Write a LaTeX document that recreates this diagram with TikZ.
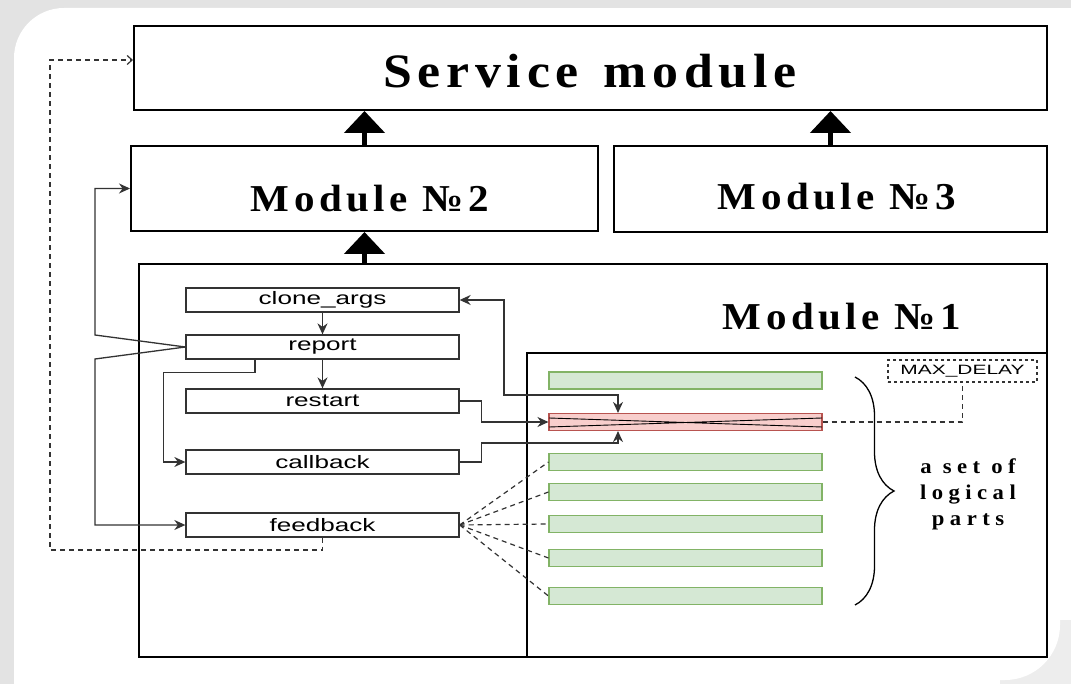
\documentclass[tikz,border=0pt]{standalone}
\usepackage{fontspec}
\setmainfont{Liberation Serif}
\setsansfont{Liberation Sans}
\newfontfamily\spacedserif[LetterSpace=11]{Liberation Serif}
\newfontfamily\widespaced[LetterSpace=24]{Liberation Serif}
\usetikzlibrary{arrows.meta, decorations.pathreplacing}
\definecolor{partfill}{HTML}{D5E8D4}
\definecolor{partline}{HTML}{82B366}
\definecolor{hotfill}{HTML}{F8CECC}
\definecolor{hotline}{HTML}{B85450}
\definecolor{wire}{HTML}{333333}
\newcommand{\stretched}[1]{\scalebox{1.45}[1]{#1}}
\newcommand{\widened}[1]{\scalebox{1.08}[1]{#1}}

\begin{document}
\begin{tikzpicture}[
    x=1pt, y=-1pt,
    module/.style={draw, line width=2pt, inner sep=0pt},
    title/.style={anchor=base, inner sep=0pt, font=\spacedserif\bfseries\fontsize{38}{38}\selectfont},
    func/.style={draw=wire, line width=1.3pt, fill=white, minimum width=273pt, minimum height=24pt, inner sep=0pt, font=\sffamily\fontsize{18}{18}\selectfont},
    part/.style={draw=partline, fill=partfill, line width=1.1pt, minimum width=273pt, minimum height=17pt, inner sep=0pt},
    bigarrow/.style={-{Triangle[width=40pt,length=22pt]}, line width=5pt},
    edge/.style={-{Stealth[length=11pt,width=10pt]}, draw=wire, line width=1.3pt},
    dashedge/.style={dash pattern=on 5pt off 4pt, draw=wire, line width=1.2pt},
]
\useasboundingbox (0,0) rectangle (1071,684);

% Frame
\fill[gray!22] (0,0) rectangle (1071,8);
\fill[gray!22] (0,0) rectangle (14,684);
\fill[gray!22] (0,0) rectangle (80,80);
\fill[white, rounded corners=50pt] (14,8) rectangle (300,300);
\fill[gray!14] (1000,620) rectangle (1071,684);
\fill[white, rounded corners=55pt] (800,400) rectangle (1060,680);

% Modules
\node[module, minimum width=913pt, minimum height=84pt] (service) at (590.5,68) {};
\node[module, minimum width=467pt, minimum height=85pt] (mod2) at (364.5,188.5) {};
\node[module, minimum width=433pt, minimum height=86pt] (mod3) at (830.5,189) {};
\node[module, minimum width=908pt, minimum height=393pt] (mod1) at (593,460.5) {};
\draw[line width=1.5pt] (527,657) -- (527,353) -- (1047,353);

\node[title, font=\spacedserif\bfseries\fontsize{48}{48}\selectfont] (service-t) at (590,88) {\widened{Service\hspace{6pt} module}};
\node[title] (mod2-t) at (370,212) {\widened{Module №2}};
\node[title] (mod3-t) at (837,210) {\widened{Module №3}};
\node[title] (mod1-t) at (842,330) {\widened{Module №1}};

% Functions
\node[func] (clone) at (322.5,300) {\stretched{clone\_args}};
\node[func] (report) at (322.5,347) {\stretched{report}};
\node[func] (restart) at (322.5,401) {\stretched{restart}};
\node[func] (callback) at (322.5,462) {\stretched{callback}};
\node[func] (feedback) at (322.5,525) {\stretched{feedback}};

% Logical parts
\node[part] (p1) at (685.5,380.5) {};
\node[part, draw=hotline, fill=hotfill] (hot) at (685.5,422) {};
\node[part] (p3) at (685.5,462) {};
\node[part] (p4) at (685.5,492) {};
\node[part] (p5) at (685.5,524) {};
\node[part] (p6) at (685.5,558) {};
\node[part] (p7) at (685.5,596) {};
\draw[line width=0.9pt] (549,418) -- (822,427) (549,427) -- (822,418);

\node[draw=wire, dashed, line width=1.1pt, minimum width=149pt, minimum height=22pt, inner sep=0pt,
      font=\sffamily\fontsize{13.5}{13.5}\selectfont] (maxdelay) at (962.5,371) {\scalebox{1.55}[1]{MAX\_DELAY}};

\draw[line width=1.3pt, decorate, decoration={brace, amplitude=39pt}] (855,377) -- (855,605);
\node[align=center, font=\widespaced\bfseries\fontsize{21}{26}\selectfont] (setlabel) at (968,494)
  {\widened{a set of}\\\widened{logical}\\\widened{parts}};

% Edges
\draw[bigarrow] (mod2.north) -- (mod2.north |- service.south);
\draw[bigarrow] (mod3.north) -- (mod3.north |- service.south);
\draw[bigarrow] (mod2.south |- mod1.north) -- (mod2.south);

\draw[edge] (clone) -- (report);
\draw[edge] (report) -- (restart);
\draw[edge] ([xshift=-67.5pt]report.south) -- ++(0,13) -| (163.5,462) -- (callback.west);
\draw[edge] (report.west) -- (95,335) |- (mod2.west);
\draw[edge] (report.west) -- (95,359) |- (feedback.west);
\draw[edge, {Stealth[length=11pt,width=10pt]}-{Stealth[length=11pt,width=10pt]}] (clone.east) -| (504,395) -| ([xshift=-67.5pt]hot.north);
\draw[edge] (restart.east) -- ++(22,0) |- (hot.west);
\draw[edge] (callback.east) -- ++(22,0) |- ([xshift=-67.5pt,yshift=-12pt]hot.south) -- ([xshift=-67.5pt]hot.south);

\coordinate (loopbottom) at (50,550);
\coordinate (looptop) at (50,60);
\draw[dashedge, -{Straight Barb[length=5pt,width=9pt]}] (feedback.south) -- (feedback.south |- loopbottom) -- (loopbottom) -- (looptop) -- (looptop -| service.west);
\foreach \p in {p3,p4,p5,p6,p7}
  \draw[dashedge] (feedback.east) -- (\p.west);
\draw[dashedge] (hot.east) -| (maxdelay.south);

\end{tikzpicture}
\end{document}
